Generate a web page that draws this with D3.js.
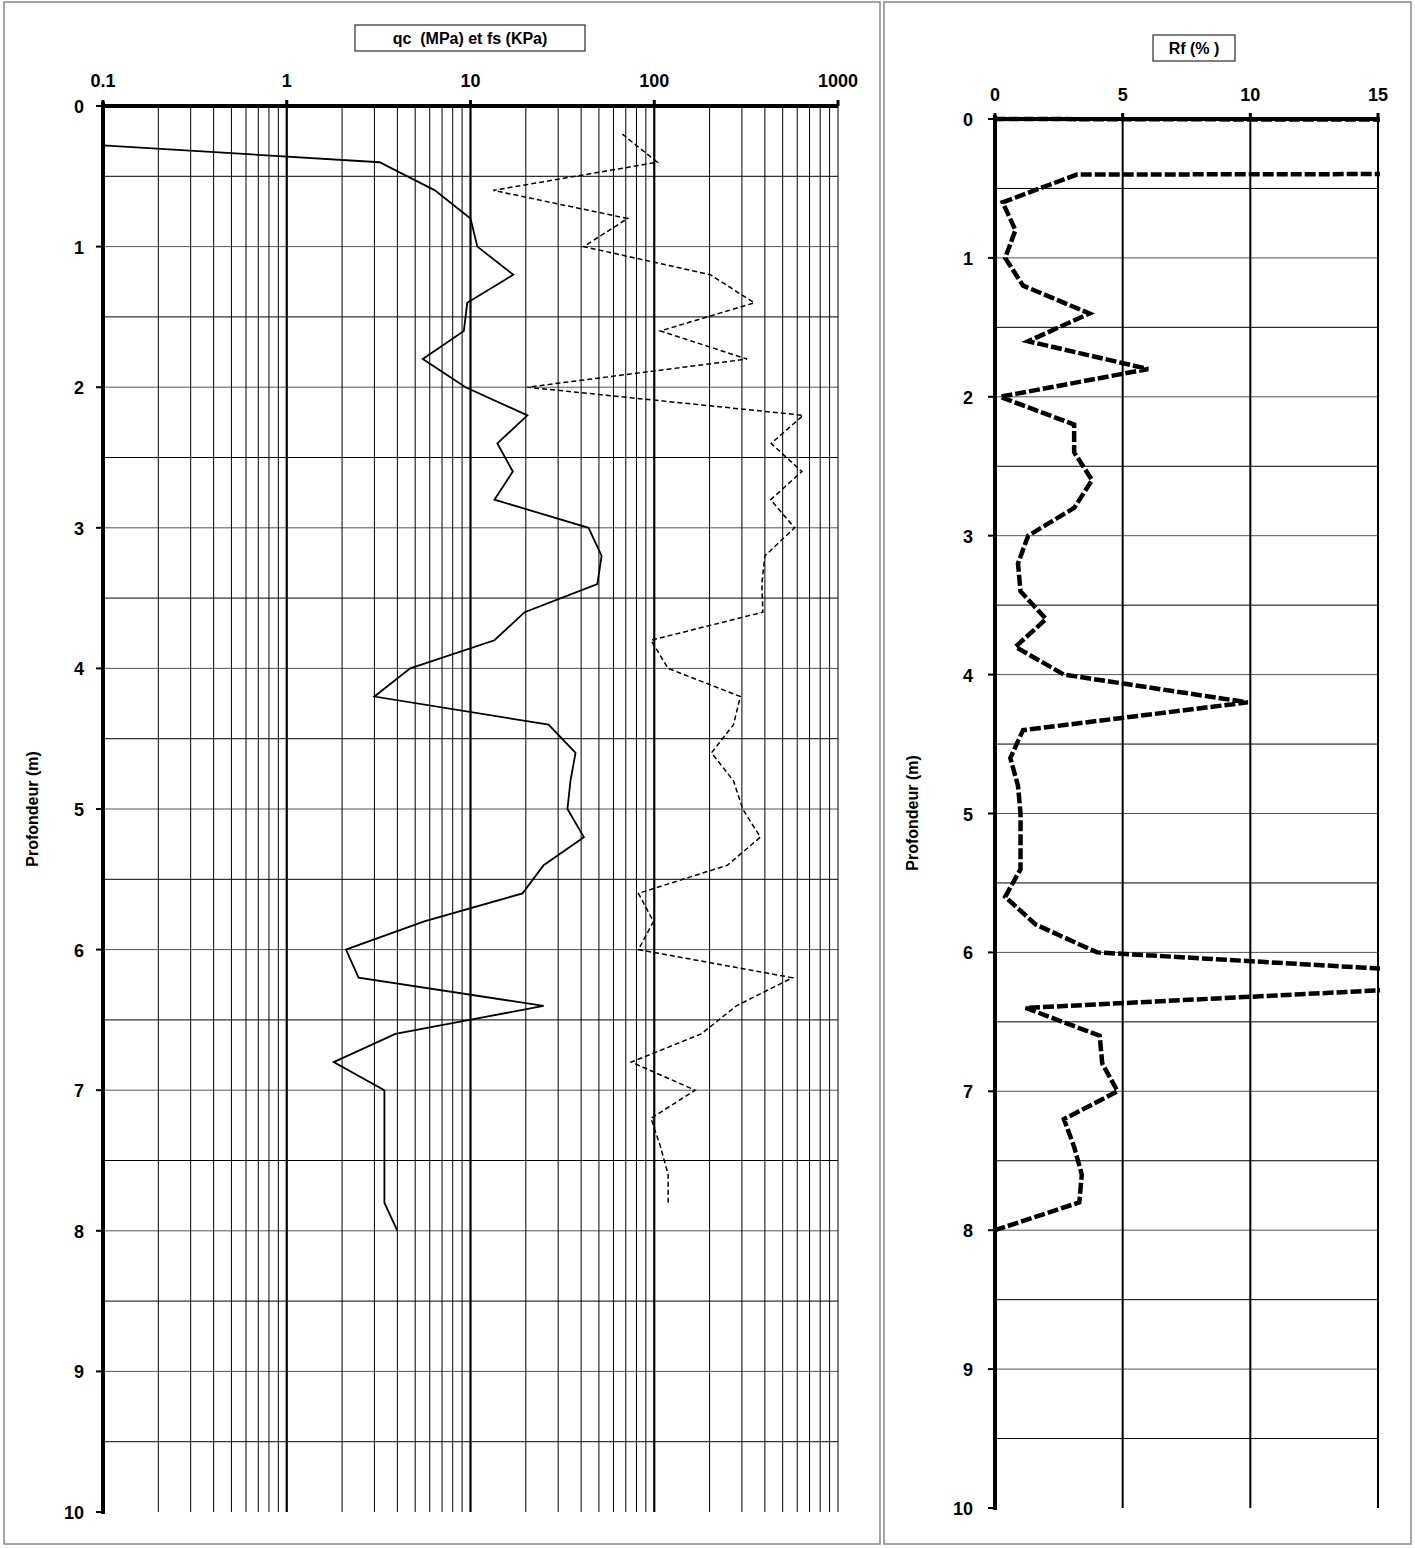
<!DOCTYPE html>
<html><head><meta charset="utf-8">
<script src="https://cdn.jsdelivr.net/npm/d3@7"></script>
<style>body{margin:0;background:#fff}text{font-family:Arial,"Liberation Sans",sans-serif;font-weight:bold}</style>
</head><body><svg id="c" width="1415" height="1548"></svg>
<script>
const qcDepth=[0.28,0.4,0.6,0.8,1.0,1.2,1.4,1.6,1.8,2.0,2.2,2.4,2.6,2.8,3.0,3.2,3.4,3.6,3.8,4.0,4.2,4.4,4.6,4.8,5.0,5.2,5.4,5.6,5.8,6.0,6.2,6.4,6.6,6.8,7.0,7.2,7.4,7.6,7.8,8.0];
const qcValues=[0.1,3.2,6.4,10,10.9,17.1,9.6,9.2,5.5,9.4,20.4,14,17,13.5,43.9,51.7,49,19.7,13.5,4.7,3.0,26.6,37.3,35,33.7,41.4,25,19.2,5.6,2.1,2.46,25,3.9,1.8,3.4,3.4,3.4,3.4,3.4,4.0];
const fsDepth=[0.2,0.4,0.6,0.8,1.0,1.2,1.4,1.6,1.8,2.0,2.2,2.4,2.6,2.8,3.0,3.2,3.4,3.6,3.8,4.0,4.2,4.4,4.6,4.8,5.0,5.2,5.4,5.6,5.8,6.0,6.2,6.4,6.6,6.8,7.0,7.2,7.4,7.6,7.8];
const fsValues=[67,104,13.3,71.6,41.3,202,350,108,320,20.4,646,433,636,430,580,400,385,390,96,119,294,270,205,270,303,378,250,82,99,82,565,280,180,75,167,96,108,119,119];
const rfDepth=[0,0.2,0.4,0.6,0.8,1.0,1.2,1.4,1.6,1.8,2.0,2.2,2.4,2.6,2.8,3.0,3.2,3.4,3.6,3.8,4.0,4.2,4.4,4.6,4.8,5.0,5.2,5.4,5.6,5.8,6.0,6.2,6.4,6.6,6.8,7.0,7.2,7.4,7.6,7.8,8.0];
const rfValues=[0,670,3.2,0.3,0.8,0.4,1.1,3.7,1.3,6.0,0.2,3.1,3.1,3.8,3.1,1.3,0.9,1.0,2.0,0.8,2.7,9.9,1.1,0.6,0.9,1.0,1.0,1.0,0.4,1.6,4.0,23,1.2,4.1,4.2,4.8,2.7,3.1,3.4,3.3,0];
const logTicks=[0.1,1,10,100,1000];
const rfTicks=[0,5,10,15];
const depthTicks=[0,1,2,3,4,5,6,7,8,9,10];

const svg=d3.select("#c");
svg.append("rect").attr("x",4).attr("y",2).attr("width",876).attr("height",1542).attr("fill","none").attr("stroke","#888").attr("stroke-width",1.5);
svg.append("rect").attr("x",884).attr("y",2).attr("width",527).attr("height",1542).attr("fill","none").attr("stroke","#888").attr("stroke-width",1.5);

function depthGrid(g,x0,x1,y){
  for(let d=0.5;d<10;d+=0.5) g.append("line").attr("x1",x0).attr("x2",x1).attr("y1",y(d)).attr("y2",y(d)).attr("stroke",d%1===0?"#555":"#000").attr("stroke-width",1);
}
const x=d3.scaleLog().domain([0.1,1000]).range([103,838]);
const y=d3.scaleLinear().domain([0,10]).range([106,1512]);
const L=svg.append("g");
depthGrid(L,103,838,y);
for(let e=-1;e<3;e++)for(let k=2;k<=9;k++){const v=k*Math.pow(10,e);L.append("line").attr("x1",x(v)).attr("x2",x(v)).attr("y1",y(0)).attr("y2",y(10)).attr("stroke","#000").attr("stroke-width",1);}
logTicks.slice(1).forEach(v=>L.append("line").attr("x1",x(v)).attr("x2",x(v)).attr("y1",y(0)).attr("y2",y(10)).attr("stroke","#000").attr("stroke-width",v===1000?1:2.2));
L.append("line").attr("x1",103).attr("x2",838).attr("y1",y(0)).attr("y2",y(0)).attr("stroke","#000").attr("stroke-width",4);
L.append("line").attr("x1",103).attr("x2",103).attr("y1",y(0)-4).attr("y2",y(10)+2).attr("stroke","#000").attr("stroke-width",4);
logTicks.forEach(v=>{L.append("line").attr("x1",x(v)).attr("x2",x(v)).attr("y1",y(0)-6).attr("y2",y(0)).attr("stroke","#000").attr("stroke-width",3);
 L.append("text").attr("x",x(v)).attr("y",87).attr("text-anchor","middle").attr("font-size",18).text(d3.format("~g")(v));});
depthTicks.forEach(d=>{L.append("line").attr("x1",96).attr("x2",103).attr("y1",y(d)).attr("y2",y(d)).attr("stroke","#000").attr("stroke-width",2);
 L.append("text").attr("x",84).attr("y",y(d)+7).attr("text-anchor","end").attr("font-size",18).text(d);});
L.append("rect").attr("x",355).attr("y",25).attr("width",230).attr("height",26).attr("fill","#fff").attr("stroke","#000");
L.append("text").attr("x",470).attr("y",44).attr("text-anchor","middle").attr("font-size",16).attr("xml:space","preserve").text("qc  (MPa) et fs (KPa)");
L.append("text").attr("transform","translate(38,809) rotate(-90)").attr("text-anchor","middle").attr("font-size",16).text("Profondeur (m)");
const lx=d3.line().x(d=>x(d[1])).y(d=>y(d[0]));
L.append("path").attr("d",lx(qcDepth.map((d,i)=>[d,qcValues[i]]))).attr("fill","none").attr("stroke","#000").attr("stroke-width",1.8);
L.append("path").attr("d",lx(fsDepth.map((d,i)=>[d,fsValues[i]]))).attr("fill","none").attr("stroke","#000").attr("stroke-width",1.5).attr("stroke-dasharray","5,3");

const xr=d3.scaleLinear().domain([0,15]).range([995,1378]);
const yr=d3.scaleLinear().domain([0,10]).range([119,1508]);
const R=svg.append("g");
depthGrid(R,995,1378,yr);
[5,10,15].forEach(v=>R.append("line").attr("x1",xr(v)).attr("x2",xr(v)).attr("y1",yr(0)).attr("y2",yr(10)).attr("stroke","#000").attr("stroke-width",2));
R.append("line").attr("x1",995).attr("x2",1378).attr("y1",yr(0)).attr("y2",yr(0)).attr("stroke","#000").attr("stroke-width",4);
R.append("line").attr("x1",995).attr("x2",995).attr("y1",yr(0)-4).attr("y2",yr(10)+2).attr("stroke","#000").attr("stroke-width",4);
rfTicks.forEach(v=>{R.append("line").attr("x1",xr(v)).attr("x2",xr(v)).attr("y1",yr(0)-6).attr("y2",yr(0)).attr("stroke","#000").attr("stroke-width",3);
 R.append("text").attr("x",xr(v)).attr("y",101).attr("text-anchor","middle").attr("font-size",18).text(v);});
depthTicks.forEach(d=>{R.append("line").attr("x1",988).attr("x2",995).attr("y1",yr(d)).attr("y2",yr(d)).attr("stroke","#000").attr("stroke-width",2);
 R.append("text").attr("x",973).attr("y",yr(d)+7).attr("text-anchor","end").attr("font-size",18).text(d);});
R.append("rect").attr("x",1153).attr("y",35).attr("width",82).attr("height",26).attr("fill","#fff").attr("stroke","#000");
R.append("text").attr("x",1194).attr("y",54).attr("text-anchor","middle").attr("font-size",16).text("Rf (% )");
R.append("text").attr("transform","translate(918,813) rotate(-90)").attr("text-anchor","middle").attr("font-size",16).text("Profondeur (m)");
svg.append("clipPath").attr("id","cr").append("rect").attr("x",990).attr("y",yr(0)-6).attr("width",390).attr("height",1400);
const lr=d3.line().x(d=>xr(d[1])).y(d=>yr(d[0]));
R.append("path").attr("clip-path","url(#cr)").attr("d",lr(rfDepth.map((d,i)=>[d,rfValues[i]]))).attr("fill","none").attr("stroke","#000").attr("stroke-width",4.5).attr("stroke-dasharray","11,3");
</script></body></html>
